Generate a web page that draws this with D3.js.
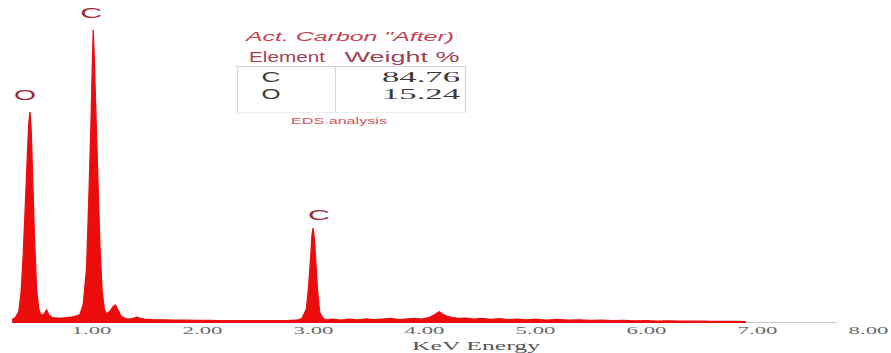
<!DOCTYPE html>
<html>
<head>
<meta charset="utf-8">
<script src="https://cdn.jsdelivr.net/npm/d3@7"></script>
<style>
  html, body { margin: 0; padding: 0; background: #fff; }
  svg { display: block; }
</style>
</head>
<body>
<svg id="chart" width="891" height="353"></svg>
<script>
// EDS spectrum of activated carbon (after treatment)
const energyKeV = [
  0.29, 0.32, 0.35, 0.37, 0.39, 0.41, 0.43, 0.44, 0.45, 0.46, 0.47, 0.49, 0.51, 0.53, 0.55, 0.58,
  0.60, 0.62, 0.65, 0.70, 0.75, 0.80, 0.85, 0.90, 0.93, 0.96, 0.98, 1.00, 1.01, 1.02, 1.03, 1.04,
  1.06, 1.08, 1.10, 1.12, 1.14, 1.17, 1.20, 1.22, 1.24, 1.27, 1.31, 1.35, 1.38, 1.41, 1.44, 1.48,
  1.55, 1.65, 1.75, 1.85, 1.95, 2.05, 2.15, 2.25, 2.35, 2.45, 2.55, 2.65, 2.75, 2.85, 2.90, 2.94,
  2.96, 2.98, 2.99, 3.00, 3.01, 3.02, 3.04, 3.06, 3.09, 3.12, 3.18, 3.25, 3.32, 3.40, 3.48, 3.55,
  3.62, 3.70, 3.78, 3.85, 3.92, 3.98, 4.04, 4.09, 4.12, 4.14, 4.17, 4.21, 4.26, 4.31, 4.38, 4.45,
  4.52, 4.60, 4.68, 4.76, 4.84, 4.92, 5.00, 5.10, 5.20, 5.30, 5.40, 5.50, 5.60, 5.70, 5.80, 5.90,
  6.00, 6.10, 6.20, 6.30, 6.40, 6.50, 6.60, 6.70, 6.80, 6.90
];
const counts = [
  25, 45, 110, 300, 700, 1250, 1800, 2050, 2157, 2000, 1650, 900, 330, 130, 70, 85,
  125, 75, 45, 40, 42, 48, 55, 75, 180, 550, 1250, 2050, 2550, 3000, 2700, 2300,
  1550, 800, 320, 130, 85, 110, 160, 175, 130, 60, 35, 30, 38, 50, 40, 30,
  25, 22, 20, 18, 17, 16, 15, 15, 14, 14, 14, 14, 15, 18, 35, 130,
  360, 680, 880, 966, 880, 720, 340, 100, 38, 22, 28, 20, 30, 22, 32, 24,
  30, 36, 24, 32, 38, 30, 44, 70, 95, 105, 78, 58, 46, 38, 40, 30,
  36, 26, 34, 24, 30, 22, 28, 20, 26, 18, 22, 16, 18, 14, 16, 12,
  14, 10, 12, 9, 10, 8, 7, 6, 5, 4
];

// Peak labels (element, energy in keV, counts at the peak)
const peakElements = ["O", "C", "C"];
const peakEnergy = [0.45, 1.02, 3.00];
const peakCounts = [2157, 3000, 966];

// Quantification table
const tableTitle = "Act. Carbon \"After)";
const tableHeader = ["Element", "Weight %"];
const tableElements = ["C", "O"];
const tableWeights = ["84.76", "15.24"];
const tableCaption = "EDS analysis";

const xTicks = [1, 2, 3, 4, 5, 6, 7, 8];
const xTitle = "KeV Energy";

const svg = d3.select("#chart");

const x = d3.scaleLinear().domain([0, 8]).range([-20, 868]);
const y = d3.scaleLinear().domain([0, 3000]).range([322, 30]);

const spectrum = energyKeV.map((e, i) => ({ e, c: counts[i] }));

// stretch a text element to a fixed drawn width
function fit(sel, w) {
  sel.attr("textLength", w).attr("lengthAdjust", "spacingAndGlyphs");
  return sel;
}

// light baseline across the energy range
svg.append("line")
  .attr("x1", x(0.29)).attr("x2", x(7.72))
  .attr("y1", y(0) + 0.5).attr("y2", y(0) + 0.5)
  .attr("stroke", "#c9c9c9").attr("stroke-width", 1.2);

// filled spectrum
svg.append("path")
  .datum(spectrum)
  .attr("fill", "#ec0c0c")
  .attr("d", d3.area().x(d => x(d.e)).y0(y(0) + 1).y1(d => y(d.c)));

svg.append("path")
  .datum(spectrum)
  .attr("fill", "none")
  .attr("stroke", "#e81010")
  .attr("stroke-width", 1.3)
  .attr("d", d3.line().x(d => x(d.e)).y(d => y(d.c)));

// x axis: tick labels only
const axis = svg.append("g")
  .attr("transform", `translate(0,${y(0)})`)
  .call(d3.axisBottom(x).tickValues(xTicks).tickSize(0).tickPadding(5).tickFormat(d3.format(".2f")));
axis.select(".domain").remove();
axis.selectAll("text")
  .attr("font-family", "Liberation Serif, Times New Roman, serif")
  .attr("font-size", 11)
  .attr("fill", "#6a6a6a")
  .attr("dy", "0.6em")
  .each(function () { fit(d3.select(this), 40); });

fit(svg.append("text")
  .attr("x", 476).attr("y", 350)
  .attr("text-anchor", "middle")
  .attr("font-family", "Liberation Serif, Times New Roman, serif")
  .attr("font-size", 12)
  .attr("fill", "#555")
  .text(xTitle), 128);

// element labels above peaks
const labelOffsets = [[-5, -12], [-2, -12], [6, -8]];
peakElements.forEach((el, i) => {
  fit(svg.append("text")
    .attr("x", x(peakEnergy[i]) + labelOffsets[i][0])
    .attr("y", y(peakCounts[i]) + labelOffsets[i][1])
    .attr("text-anchor", "middle")
    .attr("font-family", "Liberation Sans, Arial, sans-serif")
    .attr("font-size", 15)
    .attr("fill", "#9b2a33")
    .text(el), 22);
});

// quantification table
const tbl = svg.append("g");
fit(tbl.append("text")
  .attr("x", 350).attr("y", 41)
  .attr("text-anchor", "middle")
  .attr("font-family", "Liberation Sans, Arial, sans-serif")
  .attr("font-style", "italic")
  .attr("font-size", 12)
  .attr("fill", "#c8404c")
  .text(tableTitle), 208);

const headerX = [287, 402];
const headerW = [76, 115];
tableHeader.forEach((h, i) => {
  fit(tbl.append("text")
    .attr("x", headerX[i]).attr("y", 62)
    .attr("text-anchor", "middle")
    .attr("font-family", "Liberation Sans, Arial, sans-serif")
    .attr("font-size", 14)
    .attr("fill", "#a04452")
    .text(h), headerW[i]);
});

const gridColor = "#d6d6d6";
tbl.append("line").attr("x1", 235).attr("x2", 467).attr("y1", 66.5).attr("y2", 66.5)
  .attr("stroke", gridColor).attr("stroke-width", 1.2);
tbl.append("line").attr("x1", 237.5).attr("x2", 237.5).attr("y1", 66).attr("y2", 112)
  .attr("stroke", gridColor).attr("stroke-width", 1.2);
tbl.append("line").attr("x1", 335.5).attr("x2", 335.5).attr("y1", 66).attr("y2", 112)
  .attr("stroke", gridColor).attr("stroke-width", 1.2);
tbl.append("line").attr("x1", 465.5).attr("x2", 465.5).attr("y1", 66).attr("y2", 112)
  .attr("stroke", gridColor).attr("stroke-width", 1.2);
tbl.append("line").attr("x1", 237).attr("x2", 466).attr("y1", 112.5).attr("y2", 112.5)
  .attr("stroke", "#ececec").attr("stroke-width", 1);

const rowY = [82, 99];
tableElements.forEach((el, i) => {
  fit(tbl.append("text")
    .attr("x", 271).attr("y", rowY[i])
    .attr("text-anchor", "middle")
    .attr("font-family", "Liberation Sans, Arial, sans-serif")
    .attr("font-size", 15)
    .attr("fill", "#3a3a3a")
    .text(el), 19);
  fit(tbl.append("text")
    .attr("x", 421).attr("y", rowY[i])
    .attr("text-anchor", "middle")
    .attr("font-family", "Liberation Serif, Times New Roman, serif")
    .attr("font-size", 15)
    .attr("fill", "#3a3a3a")
    .text(tableWeights[i]), 78);
});

fit(tbl.append("text")
  .attr("x", 339).attr("y", 124)
  .attr("text-anchor", "middle")
  .attr("font-family", "Liberation Sans, Arial, sans-serif")
  .attr("font-size", 9)
  .attr("fill", "#d4505c")
  .text(tableCaption), 96);
</script>
</body>
</html>
